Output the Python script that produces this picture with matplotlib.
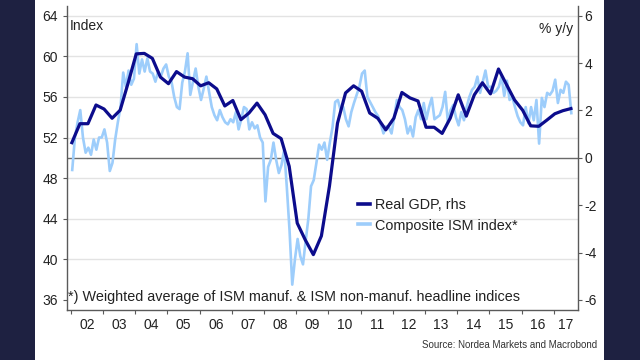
import matplotlib
matplotlib.use("Agg")
import matplotlib.pyplot as plt
from matplotlib.patches import Rectangle
from matplotlib.lines import Line2D
import numpy as np

# ---------------- data ----------------
year_ticks = list(range(2002, 2018))
year_labels = ["02", "03", "04", "05", "06", "07", "08", "09",
               "10", "11", "12", "13", "14", "15", "16", "17"]

# Real GDP, % y/y (rhs), quarterly, first point at start of 2002
gdp_start = 2002.0
gdp_yoy = [0.64, 1.44, 1.44, 2.23, 2.06, 1.67, 2.01, 3.17, 4.39, 4.41,
           4.20, 3.41, 3.13, 3.64, 3.41, 3.34, 3.04, 3.17, 2.91, 2.19,
           2.42, 1.61, 1.89, 2.31, 1.82, 1.03, 0.81, -0.36, -2.76, -3.47,
           -4.09, -3.30, -1.20, 1.46, 2.74, 3.04, 2.81, 1.89, 1.67, 1.18,
           1.67, 2.76, 2.53, 2.40, 1.29, 1.29, 1.03, 1.67, 2.66, 1.76,
           2.66, 3.17, 2.70, 3.75, 3.09, 2.44, 2.01, 1.35, 1.33, 1.59,
           1.86, 1.99, 2.08]

# Composite ISM index (lhs), monthly, Jan 2002 - Jul 2017
ism_start = 2002.0
ism = [
    48.8, 52.0, 53.5, 54.7, 52.0, 50.5, 51.0, 50.3, 51.8, 50.8, 52.0, 52.0,   # 2002
    52.8, 51.5, 48.7, 49.5, 51.8, 53.5, 55.0, 58.4, 57.0, 58.6, 57.2, 57.8,   # 2003
    61.2, 58.3, 59.7, 58.5, 59.8, 58.5, 58.3, 57.5, 58.5, 58.0, 58.8, 59.2,   # 2004
    58.0, 57.5, 56.0, 55.0, 54.8, 57.4, 58.5, 60.3, 56.2, 57.5, 58.8, 57.0,   # 2005
    55.7, 56.8, 58.0, 56.5, 55.0, 54.2, 53.7, 54.7, 54.0, 53.5, 53.3, 53.8,   # 2006
    53.5, 54.5, 52.8, 53.8, 55.0, 54.8, 52.8, 53.5, 52.9, 53.2, 52.0, 51.5,   # 2007
    45.7, 49.1, 49.8, 51.5, 49.8, 48.5, 49.3, 50.8, 47.0, 42.8, 37.5, 40.0,   # 2008
    42.0, 40.3, 39.5, 41.8, 44.0, 47.2, 47.8, 49.5, 51.3, 50.8, 51.5, 49.8,   # 2009
    51.5, 53.0, 55.5, 55.7, 54.7, 55.0, 53.8, 53.1, 54.5, 55.4, 56.2, 57.0,   # 2010
    58.3, 58.6, 56.0, 55.5, 55.0, 54.5, 54.1, 53.3, 52.4, 53.1, 53.0, 52.4,   # 2011
    54.0, 55.7, 55.0, 54.7, 53.8, 52.4, 53.1, 52.1, 54.0, 54.7, 53.8, 55.4,   # 2012
    53.8, 55.0, 55.9, 53.8, 54.0, 54.2, 55.0, 56.5, 53.5, 54.7, 55.2, 54.0,   # 2013
    53.2, 54.5, 53.7, 55.0, 56.0, 56.7, 57.0, 58.0, 56.4, 57.5, 58.6, 57.0,   # 2014
    57.0, 56.4, 56.6, 57.0, 58.0, 56.1, 57.6, 55.7, 56.0, 55.0, 54.1, 53.5,   # 2015
    53.2, 55.0, 53.4, 55.0, 53.7, 55.7, 51.4, 55.9, 55.0, 56.4, 56.2, 56.6,   # 2016
    57.7, 55.4, 56.7, 56.4, 57.5, 57.2, 54.4,                                 # 2017
]

left_ticks = [36, 40, 44, 48, 52, 56, 60, 64]
right_ticks = [-6, -4, -2, 0, 2, 4, 6]

# ---------------- style ----------------
W, H = 640, 360
BG = "#1e2141"
GDP_C = "#0c0c8c"
ISM_C = "#9dcdfb"
TXT = "#222222"
SPINE = "#5a5a5a"
FONT = ["Liberation Sans", "DejaVu Sans"]
plt.rcParams["font.family"] = FONT

fig = plt.figure(figsize=(6.4, 3.6), dpi=100, facecolor=BG)
fig.patches.append(Rectangle((35 / W, 0), (604 - 35) / W, 1, transform=fig.transFigure,
                             facecolor="white", edgecolor="none", zorder=-10))

x0, x1 = 66.7, 577.7
ytop, ybot = 5.6, 310.0
ax = fig.add_axes([x0 / W, 1 - ybot / H, (x1 - x0) / W, (ybot - ytop) / H])
ax.set_facecolor("none")

xmin, xmax = 2001.87, 2017.74
LMIN, LMAX = 35.0, 65.0
ax.set_xlim(xmin, xmax)
ax.set_ylim(LMIN, LMAX)

ism_x = ism_start + (np.arange(len(ism)) + 0.5) / 12.0
gdp_x = gdp_start + np.arange(len(gdp_yoy)) * 0.25 + 0.03

# grid lines
for v in left_ticks[1:]:
    ax.axhline(v, color="#e3e3e3", lw=1.0, zorder=1)
ax.axhline(50, color="#6a6a6a", lw=1.0, zorder=2)

ax.plot(ism_x, ism, color=ISM_C, lw=1.9, zorder=3, solid_joinstyle="round")

ax2 = ax.twinx()
ax2.set_ylim((LMIN - 50) * 3 / 7, (LMAX - 50) * 3 / 7)
ax2.plot(gdp_x, gdp_yoy, color=GDP_C, lw=2.3, zorder=4, solid_joinstyle="round")

# spines
for a in (ax, ax2):
    a.spines["top"].set_visible(False)
for s in ("left", "bottom"):
    ax.spines[s].set_color(SPINE)
    ax.spines[s].set_linewidth(1.0)
ax.spines["right"].set_visible(False)
ax2.spines["left"].set_visible(False)
ax2.spines["bottom"].set_visible(False)
ax2.spines["right"].set_color(SPINE)
ax2.spines["right"].set_linewidth(1.0)

# ticks
ax.set_yticks(left_ticks)
ax.set_yticklabels([str(v) for v in left_ticks])
ax.tick_params(axis="y", length=3, width=0.8, color=SPINE, pad=3.5,
               labelsize=10, labelcolor=TXT)
ax2.set_yticks(right_ticks)
ax2.set_yticklabels([("-" if v < 0 else "") + str(abs(v)) for v in right_ticks])
ax2.tick_params(axis="y", length=3, width=0.8, color=SPINE, pad=2,
                labelsize=10, labelcolor=TXT)

ax.set_xticks(year_ticks)
ax.set_xticklabels([])
ax.tick_params(axis="x", which="major", length=3, width=0.8, color=SPINE)
mid = [y + 0.5 for y in year_ticks[:-1]] + [(year_ticks[-1] + xmax) / 2]
ax.set_xticks(mid, minor=True)
ax.set_xticklabels(year_labels, minor=True)
ax.tick_params(axis="x", which="minor", length=0, pad=6, labelsize=10, labelcolor=TXT)

# texts
fig.text(69.4 / W, 1 - 26 / H, "Index", ha="left", va="center", fontsize=10, color=TXT)
fig.text(573.5 / W, 1 - 29 / H, "% y/y", ha="right", va="center", fontsize=10, color=TXT)
fig.text(67.5 / W, 1 - 297 / H,
         "*) Weighted average of ISM manuf. & ISM non-manuf. headline indices",
         ha="left", va="center", fontsize=10.4, color=TXT)
fig.text(596.7 / W, 1 - 345 / H, "Source: Nordea Markets and Macrobond",
         ha="right", va="center", fontsize=7, color="#333333",
         family=["Liberation Sans Narrow", "Liberation Sans", "DejaVu Sans"])

handles = [Line2D([], [], color=GDP_C, lw=2.6), Line2D([], [], color=ISM_C, lw=2.6)]
leg = fig.legend(handles, ["Real GDP, rhs", "Composite ISM index*"],
                 loc="upper left", bbox_to_anchor=(358 / W, 1 - 198 / H),
                 frameon=False, fontsize=10.4, handlelength=0.85, handletextpad=0.35,
                 labelspacing=0.45, borderpad=0, borderaxespad=0)
for t in leg.get_texts():
    t.set_color(TXT)

fig.savefig("out.png", dpi=100, facecolor=BG)
